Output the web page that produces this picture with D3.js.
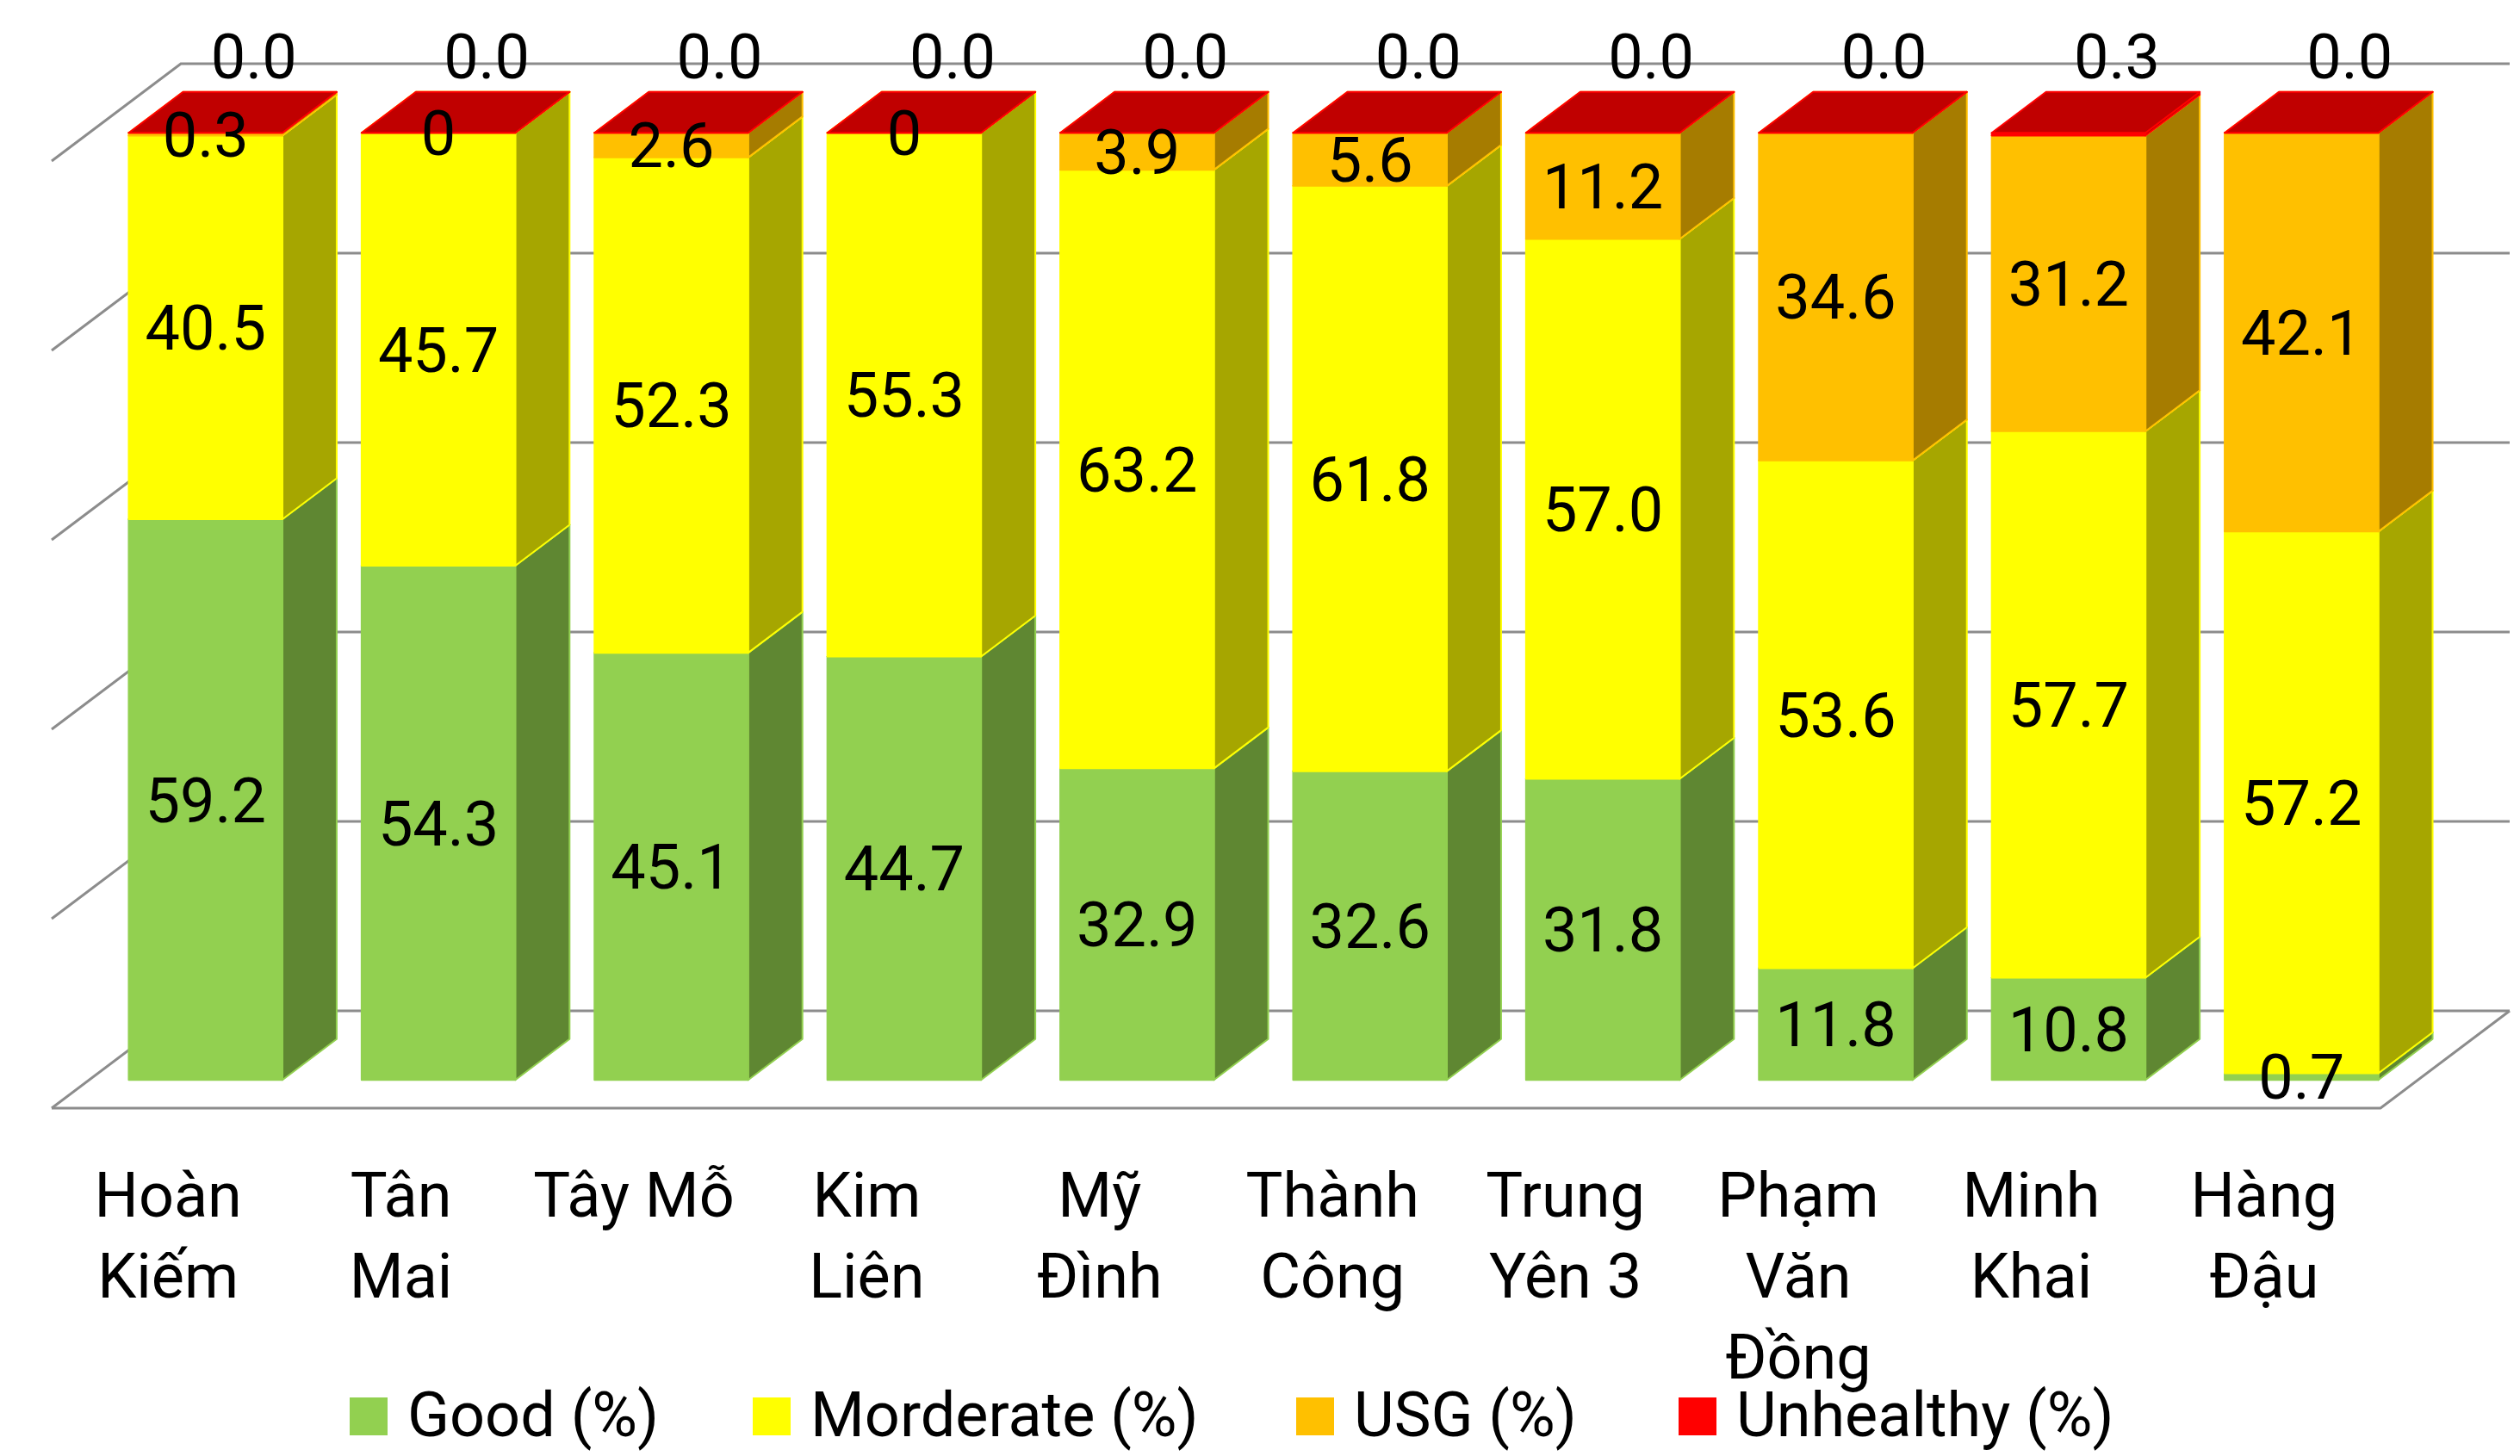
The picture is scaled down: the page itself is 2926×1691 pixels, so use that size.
<!DOCTYPE html>
<html>
<head>
<meta charset="utf-8">
<script src="https://cdn.jsdelivr.net/npm/d3@7"></script>
<style>
  body { margin: 0; background: #fff; }
  svg { display: block; }
  text { font-family: Roboto, 'Noto Sans', sans-serif; fill: #000; }
</style>
</head>
<body>
<svg id="chart" width="2926" height="1691"></svg>
<script>
const categories = ['Hoàn Kiếm', 'Tân Mai', 'Tây Mỗ', 'Kim Liên', 'Mỹ Đình', 'Thành Công', 'Trung Yên 3', 'Phạm Văn Đồng', 'Minh Khai', 'Hàng Đậu'];
const categoryLines = [['Hoàn', 'Kiếm'], ['Tân', 'Mai'], ['Tây Mỗ'], ['Kim', 'Liên'], ['Mỹ', 'Đình'], ['Thành', 'Công'], ['Trung', 'Yên 3'], ['Phạm', 'Văn', 'Đồng'], ['Minh', 'Khai'], ['Hàng', 'Đậu']];
const goodPct = [59.2, 54.3, 45.1, 44.7, 32.9, 32.6, 31.8, 11.8, 10.8, 0.7];
const moderatePct = [40.5, 45.7, 52.3, 55.3, 63.2, 61.8, 57.0, 53.6, 57.7, 57.2];
const usgPct = [0.3, 0, 2.6, 0, 3.9, 5.6, 11.2, 34.6, 31.2, 42.1];
const unhealthyPct = [0, 0, 0, 0, 0, 0, 0, 0, 0.3, 0];
const seriesKeys = ['good', 'moderate', 'usg', 'unhealthy'];
const seriesNames = ['Good (%)', 'Morderate (%)', 'USG (%)', 'Unhealthy (%)'];
const yTicks = [0, 20, 40, 60, 80, 100];

const colors = {
  good: { front: '#92D050', side: '#5F8732', top: '#73A83C' },
  moderate: { front: '#FFFF00', side: '#A6A600', top: '#C8C800' },
  usg: { front: '#FFC000', side: '#A67C00', top: '#C89600' },
  unhealthy: { front: '#FF0000', side: '#A60000', top: '#C00000' }
};

const svg = d3.select('#chart');

// oblique projection: depth goes up and to the right
const DX = 150, DY = 113;
const Z0 = 0.29, Z1 = 0.71;

const x = d3.scaleBand().domain(categories).range([60, 2764])
  .paddingInner(0.34).paddingOuter(0.17);
const y = d3.scaleLinear().domain([0, 100]).range([1287, 187]);

function proj(px, v, z) {
  return [px + z * DX, y(v) - z * DY];
}

const rows = categories.map((c, i) => ({
  cat: c,
  good: goodPct[i],
  moderate: moderatePct[i],
  usg: usgPct[i],
  unhealthy: unhealthyPct[i]
}));
const stacked = d3.stack().keys(seriesKeys)(rows);

// walls and floor
const grid = svg.append('g').attr('stroke', '#8c8c8c').attr('stroke-width', 3).attr('fill', 'none');
yTicks.forEach((t) => {
  const a = proj(60, t, 0), b = proj(60, t, 1), c = proj(2764, t, 1);
  grid.append('path').attr('d', `M${a}L${b}L${c}`);
});
grid.append('path').attr('d', `M${proj(60, 0, 0)}L${proj(2764, 0, 0)}L${proj(2764, 0, 1)}`);

// bars
const bars = svg.append('g');
categories.forEach((c, i) => {
  const x0 = x(c), x1 = x(c) + x.bandwidth();
  stacked.forEach((s) => {
    const [lo, hi] = s[i];
    const col = colors[s.key];
    const g = bars.append('g').attr('stroke', col.front).attr('stroke-width', 2).attr('stroke-linejoin', 'round');
    g.append('path').attr('fill', col.side)
      .attr('d', `M${proj(x1, lo, Z0)}L${proj(x1, lo, Z1)}L${proj(x1, hi, Z1)}L${proj(x1, hi, Z0)}Z`);
    g.append('path').attr('fill', col.front)
      .attr('d', `M${proj(x0, lo, Z0)}L${proj(x1, lo, Z0)}L${proj(x1, hi, Z0)}L${proj(x0, hi, Z0)}Z`);
    g.append('path').attr('fill', col.top)
      .attr('d', `M${proj(x0, hi, Z0)}L${proj(x1, hi, Z0)}L${proj(x1, hi, Z1)}L${proj(x0, hi, Z1)}Z`);
  });
});

// data labels
const labels = svg.append('g').attr('font-size', 72).attr('text-anchor', 'middle');
const fmt = (key, v) => (key === 'usg' && v === 0 ? '0' : v.toFixed(1));
categories.forEach((c, i) => {
  const cx = x(c) + x.bandwidth() / 2;
  stacked.forEach((s) => {
    const [lo, hi] = s[i];
    let p;
    if (s.key === 'unhealthy') {
      // the top series' labels sit above the bars
      p = [cx + Z0 * DX + 56, 65];
    } else {
      p = proj(cx, (lo + hi) / 2, Z0);
    }
    labels.append('text')
      .attr('x', p[0]).attr('y', p[1]).attr('dy', '0.36em')
      .text(fmt(s.key, rows[i][s.key]));
  });
});

// category labels
const catG = svg.append('g').attr('font-size', 72).attr('text-anchor', 'middle');
categories.forEach((c, i) => {
  const cx = x(c) + x.bandwidth() / 2;
  const t = catG.append('text').attr('x', cx).attr('y', 1413);
  categoryLines[i].forEach((line, k) => {
    t.append('tspan').attr('x', cx).attr('dy', k === 0 ? 0 : 94).text(line);
  });
});

// legend
const legendX = [406, 874, 1505, 1949];
const legend = svg.append('g').attr('font-size', 72);
seriesKeys.forEach((k, i) => {
  legend.append('rect').attr('x', legendX[i]).attr('y', 1623).attr('width', 44).attr('height', 44)
    .attr('fill', colors[k].front);
  legend.append('text').attr('x', legendX[i] + 67).attr('y', 1668).text(seriesNames[i]);
});
</script>
</body>
</html>
